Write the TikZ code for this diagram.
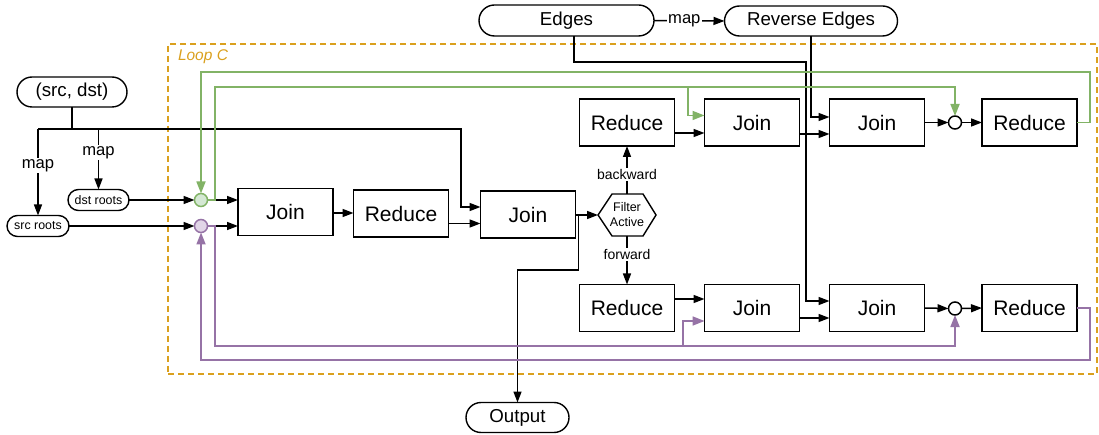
\documentclass[tikz,border=0pt]{standalone}
\usepackage{fontspec}
\setmainfont{Liberation Sans}
\usetikzlibrary{arrows.meta,shapes.misc,calc}
\definecolor{gstroke}{RGB}{130,179,102}
\definecolor{gfill}{RGB}{213,232,212}
\definecolor{pstroke}{RGB}{150,115,166}
\definecolor{pfill}{RGB}{225,213,231}
\definecolor{loopc}{RGB}{218,160,30}
\begin{document}
\begin{tikzpicture}[x=1pt,y=-1pt,
  every node/.style={inner sep=0pt, outer sep=0pt},
  box/.style={draw, line width=1.5pt, minimum width=95pt, minimum height=47pt, font=\fontsize{21}{25}\selectfont},
  term/.style={draw, line width=1.4pt, rounded rectangle, minimum height=30pt, font=\fontsize{18.7}{22}\selectfont},
  smallterm/.style={draw, line width=1.4pt, rounded rectangle, minimum height=21pt, minimum width=61pt, font=\fontsize{12.4}{14}\selectfont},
  conn/.style={line width=1.5pt},
  arr/.style={conn, -{Triangle[length=11pt,width=8pt]}},
  garr/.style={line width=1.7pt, draw=gstroke, fill=none, -{Triangle[length=12pt,width=9pt,fill=gstroke]}},
  parr/.style={line width=1.7pt, draw=pstroke, fill=none, -{Triangle[length=12pt,width=9pt,fill=pstroke]}},
  lab/.style={fill=white, inner sep=1.5pt, font=\fontsize{16.6}{18}\selectfont},
  slab/.style={fill=white, inner sep=1.5pt, font=\fontsize{14}{16}\selectfont},
  gcirc/.style={circle, draw=gstroke, fill=gfill, line width=1.5pt, minimum size=13pt},
  pcirc/.style={circle, draw=pstroke, fill=pfill, line width=1.5pt, minimum size=13pt},
  wcirc/.style={circle, draw, fill=white, line width=1.5pt, minimum size=13pt}
]
\useasboundingbox (0,0) rectangle (1099,435);

% Loop C container
\node[draw=loopc, line width=1.6pt, dash pattern=on 6pt off 4pt, minimum width=929pt, minimum height=330pt] (loop) at (632.5,209) {};
\node[anchor=west, text=loopc, font=\fontsize{15.5}{18}\selectfont\itshape] (looplbl) at (178,57) {Loop C};

% nodes
\node[term, minimum width=110pt] (sd) at (72,92) {(src, dst)};
\node[smallterm] (dst) at (98.5,200) {dst roots};
\node[smallterm, minimum width=62pt] (src) at (38,226) {src roots};
\node[gcirc] (gc) at (201,200) {};
\node[pcirc] (pc) at (201,226) {};
\node[box] (j1) at (285.5,212) {Join};
\node[box] (r1) at (401,213.5) {Reduce};
\node[box] (j3) at (528,214.5) {Join};
\node[minimum width=58pt, minimum height=42pt, align=center, font=\fontsize{12.5}{15}\selectfont] (hex) at (627,215) {Filter\\Active};
\draw[line width=1.4pt] (hex.west) -- ($(hex.north west)+(14,0)$) -- ($(hex.north east)+(-13,0)$) -- (hex.east) -- ($(hex.south east)+(-13,0)$) -- ($(hex.south west)+(14,0)$) -- cycle;
\node[term, minimum width=103pt] (out) at (517.5,417.5) {Output};
\node[term, minimum width=175pt, minimum height=31pt] (ed) at (566.5,20.5) {Edges};
\node[term, minimum width=173pt] (re) at (811,21) {Reverse Edges};

\node[box] (rt) at (627,122.5) {Reduce};
\node[box] (j2t) at (752,122.5) {Join};
\node[box] (j4t) at (877,122.5) {Join};
\node[wcirc] (ct) at (955,122.5) {};
\node[box] (rrt) at (1029.5,122.5) {Reduce};

\node[box] (rb) at (627,308) {Reduce};
\node[box] (j2b) at (752,308) {Join};
\node[box] (j4b) at (877,308) {Join};
\node[wcirc] (cb) at (955,308.5) {};
\node[box] (rrb) at (1029.5,308) {Reduce};

% left inputs
\draw[conn] (sd.south) -- (sd.south |- 0,129);
\draw[arr] (src.north |- 0,129) -- (461,129) -- (461,207) -- (j3.west |- 0,207);
\draw[arr] (src.north |- 0,129) -- node[lab, pos=0.42]{map} (src.north);
\draw[arr] (dst.north |- 0,129) -- node[lab, pos=0.39]{map} (dst.north);
\draw[arr] (dst.east) -- (gc.west);
\draw[arr] (src.east) -- (pc.west);
\draw[arr] (gc.east) -- (gc -| j1.west);
\draw[arr] (pc.east) -- (pc -| j1.west);
\draw[arr] (j1.east |- 0,213) -- (r1.west |- 0,213);
\draw[arr] (r1.east |- 0,223.5) -- (j3.west |- 0,223.5);
\draw[arr] (j3.east |- hex) -- (hex.west);
\coordinate (ob) at ($(j3.east |- hex)+(3,0)$);
\draw[arr] (ob) -- ++(0,55) -| (out.north);
\draw[arr] (hex.north) -- node[slab, pos=0.4]{backward} (rt.south);
\draw[arr] (hex.south) -- node[slab, pos=0.375]{forward} (rb.north);

% edges
\draw[arr] (ed.east) -- node[lab, pos=0.43]{map} (re.west);
\draw[arr] (re.south) |- (j4t.west |- 0,117);
\draw[arr] ($(ed.south)+(7.5,0)$) |- (806,62) |- (j4b.west |- 0,301);

% top row
\draw[arr] (rt.east |- 0,133) -- (j2t.west |- 0,133);
\draw[arr] (j2t.east |- 0,134) -- (j4t.west |- 0,134);
\draw[arr] (j4t.east) -- (ct.west);
\draw[arr] (ct.east) -- (rrt.west);

% bottom row
\draw[arr] (rb.east |- 0,299) -- (j2b.west |- 0,299);
\draw[arr] (j2b.east |- 0,318) -- (j4b.west |- 0,318);
\draw[arr] (j4b.east) -- (cb.west);
\draw[arr] (cb.east) -- (rrb.west);

% green feedback
\draw[garr] (rrt.east) -| (1090,72) -| (gc.north);
\draw[garr] (gc.east) -| (215,87) -| (ct.north);
\draw[garr] (688,87) |- (j2t.west |- 0,115.5);

% purple feedback
\draw[parr] (rrb.east) -| (1090,360) -| (pc.south);
\draw[parr] (pc.east) -| (215,346) -| (cb.south);
\draw[parr] (683,346) |- (j2b.west |- 0,321);
\end{tikzpicture}
\end{document}
